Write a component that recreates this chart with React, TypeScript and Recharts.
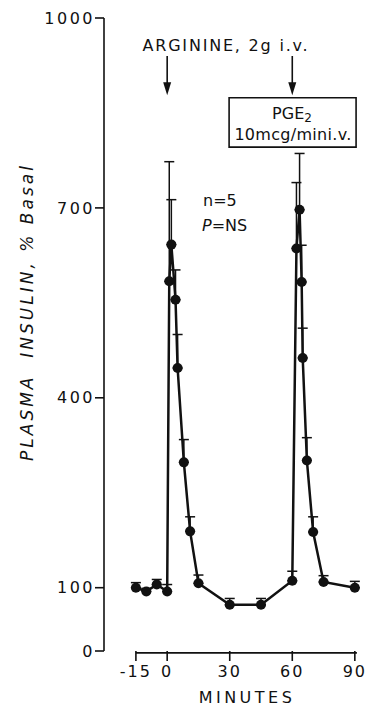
import { ComposedChart, Line, ErrorBar, XAxis, YAxis, ReferenceLine, ReferenceArea } from "recharts";

const minutes = [-15, -10, -5, 0, 1, 2, 4, 5, 8, 11, 15, 30, 45, 60, 62, 63.5, 64.5, 65, 67, 70, 75, 90];
const insulin = [100, 94, 105, 94, 584, 642, 555, 447, 298, 189, 107, 73, 73, 111, 636, 697, 583, 463, 301, 188, 109, 100];
const semUpper = [8, 5, 8, 11, 189, 71, 47, 53, 36, 23, 13, 10, 10, 15, 104, 89, 58, 47, 36, 24, 10, 10];
const xTicks = [-15, 0, 30, 60, 90];
const yTicks = [0, 100, 400, 700, 1000];
const infusionTimes = [0, 60];

const data = minutes.map((t, i) => ({ t, v: insulin[i], err: [0, semUpper[i]] }));

const FONT = "DejaVu Sans";
const INK = "#111";

function Arrow(props: any) {
  const { x1, y1, x2, y2 } = props;
  return (
    <g>
      <line x1={x1} y1={y1} x2={x2} y2={y2 - 8} stroke={INK} strokeWidth={1.6} />
      <path d={`M${x2 - 4},${y2 - 13} L${x2 + 4},${y2 - 13} L${x2},${y2} Z`} fill={INK} />
    </g>
  );
}

export default function App() {
  return (
    <div style={{ position: "absolute", left: 0, top: 0, width: 370, height: 713, background: "#fff" }}>
      <ComposedChart
        width={370}
        height={713}
        data={data}
        margin={{ top: 18, right: 11, bottom: 2, left: 40 }}
      >
        <XAxis
          type="number"
          dataKey="t"
          domain={[-30.3, 92]}
          ticks={xTicks}
          axisLine={false}
          tickSize={10}
          tickMargin={5}
          height={60}
          tickLine={{ stroke: INK, strokeWidth: 1.6 }}
          tick={{ fill: INK, fontFamily: FONT, fontSize: 16, letterSpacing: 2 }}
        />
        <YAxis
          type="number"
          domain={[0, 1000]}
          ticks={yTicks}
          width={64}
          tickSize={9}
          tickMargin={0}
          axisLine={{ stroke: INK, strokeWidth: 1.6 }}
          tickLine={{ stroke: INK, strokeWidth: 1.6 }}
          tick={{ fill: INK, fontFamily: FONT, fontSize: 16, letterSpacing: 2.5 }}
        />
        <ReferenceLine
          segment={[{ x: -15, y: -3 }, { x: 91, y: -3 }]}
          stroke={INK}
          strokeWidth={1.6}
          ifOverflow="visible"
        />
        {infusionTimes.map((t) => (
          <ReferenceLine
            key={t}
            segment={[{ x: t, y: 940 }, { x: t, y: 878 }]}
            ifOverflow="visible"
            shape={<Arrow />}
          />
        ))}
        <ReferenceArea
          x1={29.7}
          x2={90.6}
          y1={796}
          y2={874}
          fill="#fff"
          fillOpacity={1}
          stroke={INK}
          strokeWidth={1.6}
          ifOverflow="visible"
        />
        <Line
          dataKey="v"
          stroke={INK}
          strokeWidth={2.5}
          dot={{ r: 5, fill: INK, stroke: INK, strokeWidth: 0 }}
          isAnimationActive={false}
        >
          <ErrorBar dataKey="err" direction="y" width={5} stroke={INK} strokeWidth={1.5} />
        </Line>
      </ComposedChart>
      <svg
        width={370}
        height={713}
        style={{ position: "absolute", left: 0, top: 0, pointerEvents: "none" }}
        fontFamily={FONT}
        fill={INK}
      >
        <text x={226} y={51} textAnchor="middle" fontSize={16} letterSpacing={1.8}>
          ARGININE, 2g i.v.
        </text>
        <text x={292} y={119} textAnchor="middle" fontSize={16}>
          PGE<tspan fontSize={12} dy={3}>2</tspan>
        </text>
        <text x={293} y={140} textAnchor="middle" fontSize={16} letterSpacing={0.3}>
          10mcg/mini.v.
        </text>
        <text x={203} y={206} fontSize={16}>n=5</text>
        <text x={202} y={231} fontSize={16}>
          <tspan fontStyle="italic">P</tspan>=NS
        </text>
        <text
          x={33}
          y={312}
          transform="rotate(-90 33 312)"
          textAnchor="middle"
          fontSize={17}
          fontStyle="italic"
          letterSpacing={3}
        >
          PLASMA{"\u00a0\u00a0"}INSULIN, % Basal
        </text>
        <text x={247} y={703} textAnchor="middle" fontSize={16} letterSpacing={3.5}>
          MINUTES
        </text>
      </svg>
    </div>
  );
}
